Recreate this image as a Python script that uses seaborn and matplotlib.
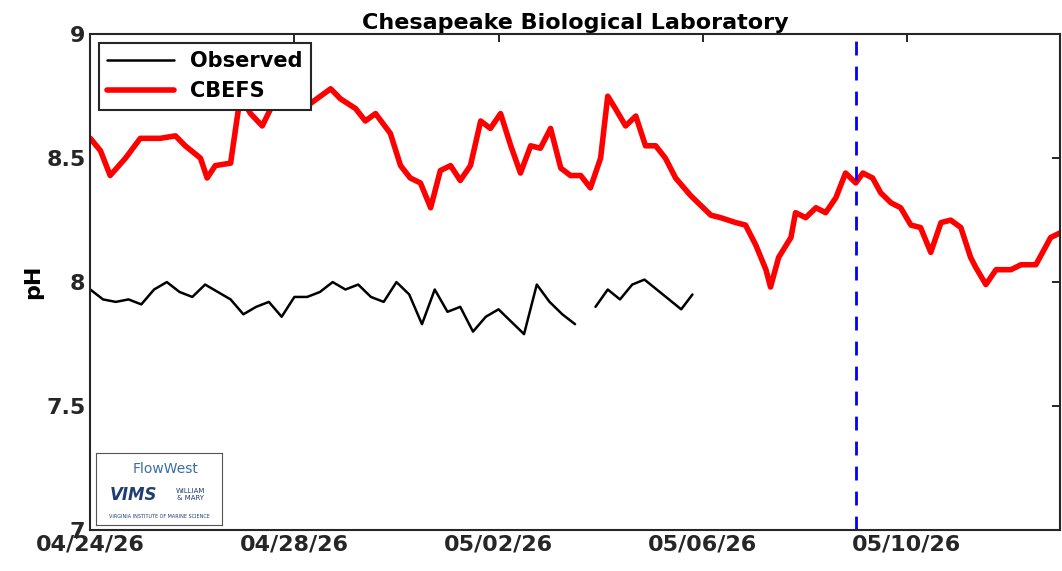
import numpy as np
import pandas as pd
import matplotlib.pyplot as plt
import matplotlib.dates as mdates
import seaborn as sns

start = pd.Timestamp('2026-04-24')
forecast_start = pd.Timestamp('2026-05-09')

# observed pH (days since start), with a gap
obs_days = list(np.arange(0, 9.51, 0.25)) + [9.75] + [9.9, 10.14, 10.38, 10.62, 10.86, 11.1, 11.34, 11.58, 11.8]
obs_values = [7.97, 7.93, 7.92, 7.93, 7.91, 7.97, 8.00, 7.96, 7.94, 7.99,
              7.96, 7.93, 7.87, 7.90, 7.92, 7.86, 7.94, 7.94, 7.96, 8.00,
              7.97, 7.99, 7.94, 7.92, 8.00, 7.95, 7.83, 7.97, 7.88, 7.90,
              7.80, 7.86, 7.89, 7.84, 7.79, 7.99, 7.92, 7.87, 7.83, np.nan,
              7.90, 7.97, 7.93, 7.99, 8.01, 7.97, 7.93, 7.89, 7.95]

# CBEFS model pH
model_days = [0, .20, .39, .69, .98, 1.37, 1.67, 1.86, 2.16, 2.29, 2.45, 2.75, 2.94, 3.14,
              3.37, 3.63, 3.92, 4.12, 4.31, 4.71, 4.90, 5.20, 5.39, 5.59, 5.88, 6.08, 6.27,
              6.47, 6.67, 6.86, 7.06, 7.25, 7.45, 7.65, 7.84, 8.04, 8.24, 8.43, 8.63, 8.82,
              9.02, 9.22, 9.41, 9.61, 9.80, 10.0, 10.14, 10.29, 10.49, 10.69, 10.88, 11.08,
              11.27, 11.47, 11.76, 11.96, 12.16, 12.35, 12.65, 12.84, 13.04, 13.24, 13.33,
              13.49, 13.73, 13.82, 14.02, 14.22, 14.41, 14.61, 14.80, 15.0, 15.14, 15.33,
              15.49, 15.69, 15.88, 16.08, 16.27, 16.47, 16.67, 16.86, 17.06, 17.25, 17.35,
              17.55, 17.75, 18.04, 18.24, 18.53, 18.82, 19.02]
model_values = [8.58, 8.53, 8.43, 8.50, 8.58, 8.58, 8.59, 8.55, 8.50, 8.42, 8.47, 8.48,
                8.75, 8.68, 8.63, 8.74, 8.74, 8.75, 8.72, 8.78, 8.74, 8.70, 8.65, 8.68,
                8.60, 8.47, 8.42, 8.40, 8.30, 8.45, 8.47, 8.41, 8.47, 8.65, 8.62, 8.68,
                8.55, 8.44, 8.55, 8.54, 8.62, 8.46, 8.43, 8.43, 8.38, 8.50, 8.75, 8.70,
                8.63, 8.67, 8.55, 8.55, 8.50, 8.42, 8.35, 8.31, 8.27, 8.26, 8.24, 8.23,
                8.15, 8.05, 7.98, 8.10, 8.18, 8.28, 8.26, 8.30, 8.28, 8.34, 8.44, 8.40,
                8.44, 8.42, 8.36, 8.32, 8.30, 8.23, 8.22, 8.12, 8.24, 8.25, 8.22, 8.10,
                8.06, 7.99, 8.05, 8.05, 8.07, 8.07, 8.18, 8.20]

obs_df = pd.DataFrame({'time': start + pd.to_timedelta(obs_days, unit='D'), 'pH': obs_values})
model_df = pd.DataFrame({'time': start + pd.to_timedelta(model_days, unit='D'), 'pH': model_values})

sns.set_style('white')
plt.rcParams['font.family'] = ['DejaVu Sans']
plt.rcParams['font.weight'] = 'bold'
plt.rcParams['text.color'] = 'black'

fig, ax = plt.subplots(figsize=(10.62, 5.71), dpi=100)
fig.subplots_adjust(left=0.085, right=0.998, top=0.94, bottom=0.072)

ax.plot(obs_df['time'], obs_df['pH'], color='black', lw=1.8, label='Observed')
sns.lineplot(data=model_df, x='time', y='pH', color='red', lw=4, label='CBEFS', ax=ax)
ax.axvline(forecast_start, color='blue', ls=(0, (5, 4)), lw=2)

ax.set_xlim(start, pd.Timestamp('2026-05-13'))
ax.set_ylim(7, 9)
ax.set_yticks([7, 7.5, 8, 8.5, 9])
ax.set_yticklabels(['7', '7.5', '8', '8.5', '9'])
ax.set_xticks(pd.date_range('2026-04-24', periods=5, freq='4D'))
ax.xaxis.set_major_formatter(mdates.DateFormatter('%m/%d/%y'))
ax.tick_params(direction='in', length=6, labelsize=16, top=True, right=True, width=1.2,
               colors='black', labelcolor='#262626')
for s in ax.spines.values():
    s.set_linewidth(1.5)
    s.set_color('#262626')
ax.set_xlabel('')
ax.set_ylabel('pH', fontsize=16, fontweight='bold', color='black', labelpad=2)
ax.set_title('Chesapeake Biological Laboratory', fontsize=16, fontweight='bold', pad=4, color='black')

leg = ax.legend(loc='upper left', fontsize=15, frameon=True, fancybox=False, framealpha=1,
                edgecolor='#262626', borderaxespad=0.4, handlelength=3.2)
leg.get_frame().set_linewidth(1.5)
for t in leg.get_texts():
    t.set_color('black')

# logo placeholder
logo = ax.inset_axes([0.006, 0.01, 0.13, 0.145])
logo.set_xticks([])
logo.set_yticks([])
for s in logo.spines.values():
    s.set_color('#555555')
logo.text(0.55, 0.78, 'FlowWest', ha='center', va='center', fontsize=10,
          color='#3a6ea5', fontweight='normal')
logo.text(0.3, 0.42, 'VIMS', ha='center', va='center', fontsize=12,
          color='#1f3f73', style='italic')
logo.text(0.75, 0.42, 'WILLIAM\n& MARY', ha='center', va='center', fontsize=5,
          color='#1f3f73', fontweight='normal')
logo.text(0.5, 0.12, 'VIRGINIA INSTITUTE OF MARINE SCIENCE', ha='center', va='center',
          fontsize=3.5, color='#1f3f73', fontweight='normal')

fig.savefig('out.png', dpi=100)
